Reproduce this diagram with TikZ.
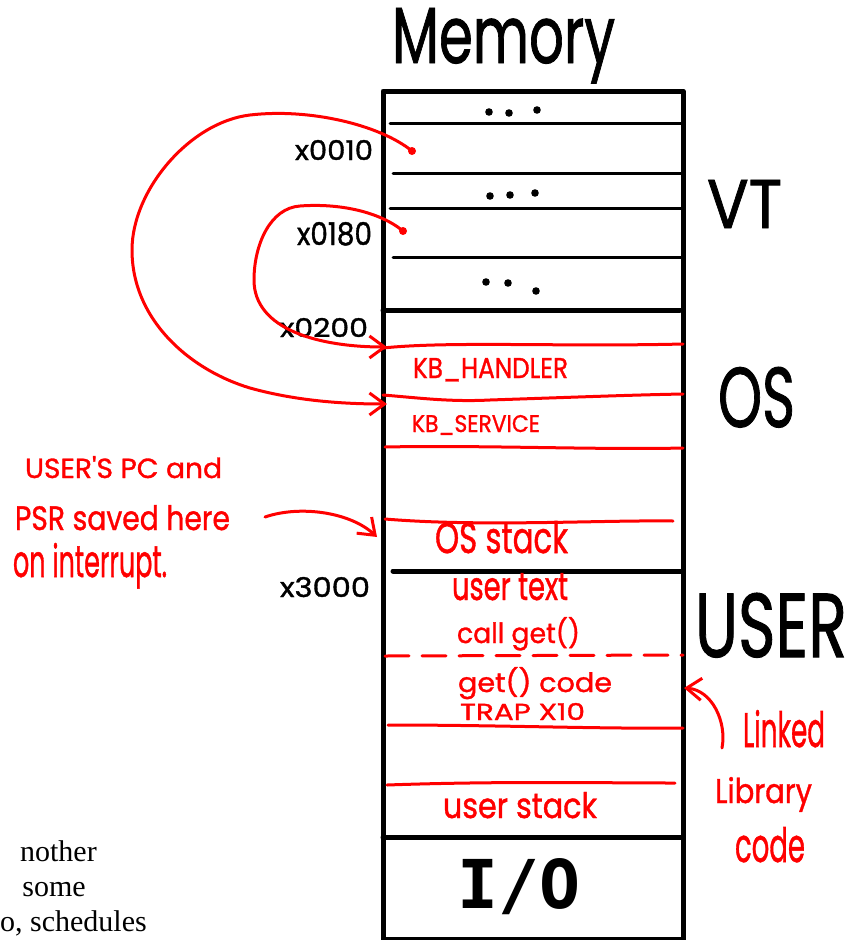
\documentclass[tikz,border=0pt]{standalone}
\usepackage{fontspec}
\setmainfont{Liberation Serif}
\newfontfamily\hand{Poppins}[FakeBold=1.2]
\newfontfamily\blockhand{DejaVu Sans Mono}
\usetikzlibrary{arrows.meta}
\definecolor{penred}{RGB}{255,0,0}
% hand-lettered label squeezed to a given width and height (in pt)
\newcommand\hw[3]{\resizebox{#1pt}{#2pt}{\hand #3}}
\tikzset{
  lbl/.style={anchor=base west, inner sep=0pt, outer sep=0pt},
  redlbl/.style={lbl, text=penred},
  wall/.style={line width=5pt, line cap=round, line join=round},
  rule/.style={line width=3pt, line cap=round},
  redrule/.style={draw=penred, line width=3pt, line cap=round},
  link/.style={draw=penred, line width=3pt, line cap=round, line join=round,
    -{Straight Barb[length=15pt,width=22pt]}},
  pin/.style={circle, fill=penred, inner sep=0pt, minimum size=8pt},
  prose/.style={anchor=base east, inner sep=0pt, font=\fontsize{30}{30}\selectfont},
}
\begin{document}
\begin{tikzpicture}[x=1pt, y=-1pt]
\useasboundingbox (0,0) rectangle (862,940);

% memory column
\draw[wall] (383,91) rectangle (683,939);

% vector table rows
\draw[rule] (390,123) -- (683,123);
\draw[rule] (393,173) -- (683,173);
\draw[rule] (390,208) -- (683,208);
\draw[rule] (393,257) -- (683,257);
\draw[wall] (383,310) -- (680,310);
\foreach \x/\y in {489/112,509/113,537/110, 490/196,510/195,535/193, 486/282,508/283,536/291}
  \fill (\x,\y) circle (3.8);

% OS region
\draw[redrule] (383,348) .. controls (450,341) and (560,347) .. (683,344);
\draw[redrule] (383,395) .. controls (420,398) and (450,402) .. (490,400)
               .. controls (580,397) and (630,395) .. (683,394);
\draw[redrule] (385,447) .. controls (480,445) and (600,450) .. (683,448);
\draw[redrule] (385,519) .. controls (480,527) and (600,520) .. (673,521);
\draw[wall] (393,571) -- (683,571);

% user region
\draw[redrule, dash pattern=on 24pt off 13pt] (385,656) -- (683,655);
\draw[redrule] (388,725) .. controls (500,725) and (600,729) .. (683,728);
\draw[redrule] (387,785) .. controls (500,781) and (600,783) .. (675,783);
\draw[wall] (383,837) -- (683,837);

% titles and region names
\node[lbl] (mem) at (392,63) {\hw{223}{55}{Memory}};
\node[lbl] (vt) at (707,228) {\hw{75}{48}{VT}};
\node[lbl] (os) at (718,427) {\hw{77}{60}{OS}};
\node[lbl] (user) at (695,657) {\hw{152}{64}{USER}};
\node[lbl] (io) at (457,908) {\resizebox{123pt}{50pt}{\blockhand\bfseries I/O}};

% addresses
\node[lbl] (a10) at (295,160) {\hw{78}{20}{x0010}};
\node[lbl] (a180) at (297,245) {\hw{75}{23}{x0180}};
\node[lbl] (a200) at (280,337) {\hw{88}{19}{x0200}};
\node[lbl] (a3000) at (280,597) {\hw{90}{20}{x3000}};

% contents
\node[redlbl] (kbh) at (413,378) {\hw{155}{20}{KB\_HANDLER}};
\node[redlbl] (kbs) at (412,432) {\hw{128}{17}{KB\_SERVICE}};
\node[redlbl] (osst) at (435,553) {\hw{133}{32}{OS stack}};
\node[redlbl] (utext) at (452,600) {\hw{116}{27}{user text}};
\node[redlbl] (callget) at (457,643) {\hw{123}{26}{call get()}};
\node[redlbl] (getcode) at (458,692) {\hw{154}{25}{get() code}};
\node[redlbl] (trap) at (460,720) {\hw{125}{17}{TRAP X10}};
\node[redlbl] (ustack) at (443,818) {\hw{154}{26}{user stack}};

% side notes
\node[redlbl] (n1) at (25,478) {\hw{197}{22}{USER'S PC and}};
\node[redlbl] (n2) at (15,530) {\hw{215}{25}{PSR saved here}};
\node[redlbl] (n3) at (13,577) {\hw{154}{34}{on interrupt.}};
\node[redlbl] (l1) at (743,747) {\hw{82}{37}{Linked}};
\node[redlbl] (l2) at (715,803) {\hw{97}{26}{Library}};
\node[redlbl] (l3) at (735,862) {\hw{70}{35}{code}};

% surrounding page text
\node[prose] (p1) at (97,861) {nother};
\node[prose] (p2) at (86,896) {some};
\node[prose] (p3) at (147,931) {o, schedules};

% vector entries pointing to their handlers
\node[pin] (v10) at (412,151) {};
\node[pin] (v180) at (403,231) {};
\coordinate (kbsIn) at (387,404);
\coordinate (kbhIn) at (387,347);
\draw[link] (v10.center) .. controls (380,125) and (310,108) .. (250,115)
            .. controls (190,122) and (132,190) .. (132,250)
            .. controls (132,320) and (190,370) .. (250,388)
            .. controls (300,402) and (350,404) .. (kbsIn);
\draw[link] (v180.center) .. controls (380,212) and (340,203) .. (300,206)
            .. controls (270,208) and (254,245) .. (254,280)
            .. controls (254,330) and (320,347) .. (kbhIn);

% note arrows
\coordinate (noteOut) at (265,517);
\coordinate (osIn) at (377,537);
\draw[link] (noteOut) .. controls (300,505) and (350,512) .. (osIn);
\coordinate (libOut) at (722,748);
\coordinate (libIn) at (684,688);
\draw[link] (libOut) .. controls (727,722) and (712,690) .. (libIn);
\end{tikzpicture}
\end{document}
